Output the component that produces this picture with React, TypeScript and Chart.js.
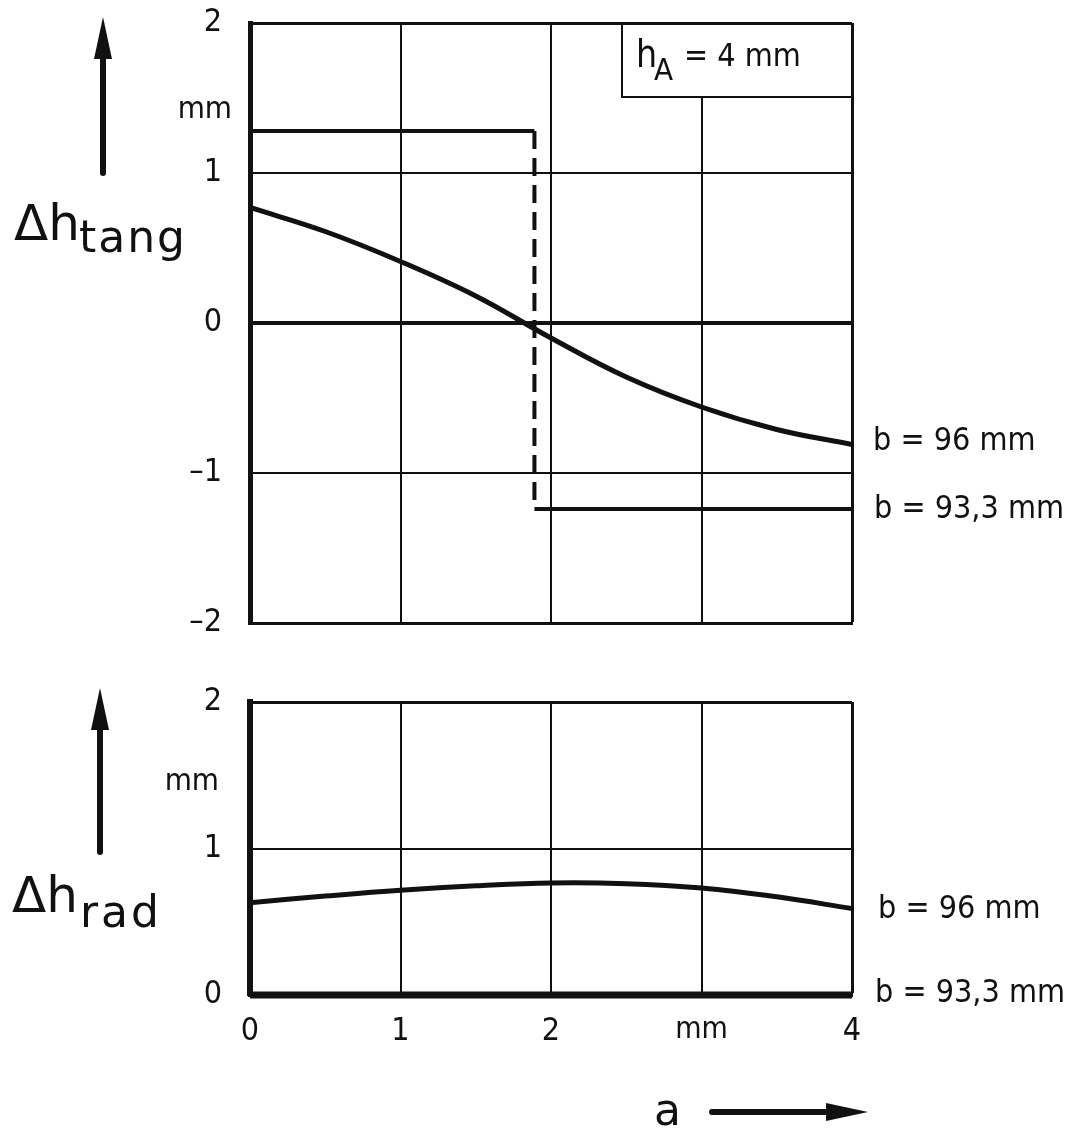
import React, { useEffect, useRef } from "react";
import { Chart, registerables } from "chart.js";
Chart.register(...registerables);

// ---- data ----
const aTang = [0, 0.5, 1, 1.5, 2, 2.5, 3, 3.5, 4];
const tang96 = [0.77, 0.61, 0.41, 0.18, -0.1, -0.36, -0.56, -0.71, -0.81];
const stepA = [0, 1.89, 1.89, 4];
const tang933 = [1.28, 1.28, -1.24, -1.24];
const aRad = [0, 0.5, 1, 1.5, 2, 2.5, 3, 3.5, 4];
const rad96 = [0.63, 0.675, 0.715, 0.745, 0.765, 0.76, 0.73, 0.67, 0.59];
const radFlatA = [0, 4];
const rad933 = [0, 0];
const xTickLabels = ["0", "1", "2", "mm", "4"];

const FONT = "'DejaVu Sans Condensed', 'DejaVu Sans', sans-serif";
const FONT_W = "'DejaVu Sans', sans-serif";
const INK = "#111";

function txt(ctx: CanvasRenderingContext2D, s: string, x: number, y: number, size: number, fam = FONT, align: CanvasTextAlign = "left", spacing = "0px") {
  ctx.save();
  ctx.font = `${size}px ${fam}`;
  (ctx as any).letterSpacing = spacing;
  ctx.textAlign = align;
  ctx.textBaseline = "alphabetic";
  ctx.fillStyle = INK;
  ctx.fillText(s, x, y);
  ctx.restore();
}

function arrowUp(ctx: CanvasRenderingContext2D, x: number, yBottom: number, yTip: number, headLen: number, half: number) {
  ctx.save();
  ctx.strokeStyle = INK;
  ctx.fillStyle = INK;
  ctx.lineWidth = 6;
  ctx.lineCap = "round";
  ctx.beginPath();
  ctx.moveTo(x, yBottom);
  ctx.lineTo(x, yTip + headLen - 2);
  ctx.stroke();
  ctx.beginPath();
  ctx.moveTo(x, yTip);
  ctx.lineTo(x - half, yTip + headLen);
  ctx.lineTo(x + half, yTip + headLen);
  ctx.closePath();
  ctx.fill();
  ctx.restore();
}

function arrowRight(ctx: CanvasRenderingContext2D, xStart: number, xTip: number, y: number, headLen: number, half: number) {
  ctx.save();
  ctx.strokeStyle = INK;
  ctx.fillStyle = INK;
  ctx.lineWidth = 6;
  ctx.lineCap = "round";
  ctx.beginPath();
  ctx.moveTo(xStart, y);
  ctx.lineTo(xTip - headLen + 2, y);
  ctx.stroke();
  ctx.beginPath();
  ctx.moveTo(xTip, y);
  ctx.lineTo(xTip - headLen, y - half);
  ctx.lineTo(xTip - headLen, y + half);
  ctx.closePath();
  ctx.fill();
  ctx.restore();
}

const topDecor = {
  id: "topDecor",
  afterDatasetsDraw(chart: any) {
    const ctx = chart.ctx as CanvasRenderingContext2D;
    const { top, right } = chart.chartArea;
    ctx.save();
    ctx.fillStyle = "#fff";
    ctx.fillRect(622, top + 2, right - 623, 95 - top);
    ctx.strokeStyle = INK;
    ctx.lineWidth = 2;
    ctx.beginPath();
    ctx.moveTo(622, top);
    ctx.lineTo(622, 97);
    ctx.lineTo(right, 97);
    ctx.stroke();
    ctx.restore();
  },
  afterDraw(chart: any) {
    const ctx = chart.ctx as CanvasRenderingContext2D;
    txt(ctx, "h", 636, 67, 37, FONT);
    txt(ctx, "A", 654, 80, 31, FONT);
    txt(ctx, "= 4 mm", 684, 66, 32, FONT);
    txt(ctx, "mm", 232, 118, 31, FONT, "right");
    arrowUp(ctx, 103, 173, 17, 42, 9);
    txt(ctx, "\u0394h", 14, 240, 50, FONT_W);
    txt(ctx, "tang", 79, 252, 44, FONT_W, "left", "2px");
    txt(ctx, "b = 96 mm", 873, 450, 32, FONT);
    txt(ctx, "b = 93,3 mm", 874, 518, 32, FONT);
  },
};

const bottomDecor = {
  id: "bottomDecor",
  afterDraw(chart: any) {
    const ctx = chart.ctx as CanvasRenderingContext2D;
    const o = 660;
    txt(ctx, "mm", 219, 790 - o, 31, FONT, "right");
    arrowUp(ctx, 100, 852 - o, 688 - o, 42, 9);
    txt(ctx, "\u0394h", 12, 912 - o, 50, FONT_W);
    txt(ctx, "rad", 80, 927 - o, 44, FONT_W, "left", "3px");
    txt(ctx, "b = 96 mm", 878, 918 - o, 32, FONT);
    txt(ctx, "b = 93,3 mm", 875, 1002 - o, 32, FONT);
    txt(ctx, "a", 654, 1125 - o, 44, FONT_W);
    arrowRight(ctx, 712, 868, 1112 - o, 42, 9);
  },
};

const noPad = (s: any) => {
  s.paddingTop = 0;
  s.paddingBottom = 0;
};

export default function App() {
  const topRef = useRef<HTMLCanvasElement>(null);
  const botRef = useRef<HTMLCanvasElement>(null);

  useEffect(() => {
    const gridW = (ctx: any, edge: number[], thick: number[]) => {
      const v = ctx.tick ? ctx.tick.value : null;
      if (thick.includes(v)) return 4;
      if (edge.includes(v)) return 3;
      return 2;
    };

    // step line b = 93,3 mm: solid horizontal parts, dashed jump
    const stepSolid = [
      { x: stepA[0], y: tang933[0] },
      { x: stepA[1], y: tang933[1] },
      { x: stepA[1], y: null },
      { x: stepA[2], y: tang933[2] },
      { x: stepA[3], y: tang933[3] },
    ];
    const stepJump = [
      { x: stepA[1], y: tang933[1] },
      { x: stepA[2], y: tang933[2] },
    ];

    const top = new Chart(topRef.current as HTMLCanvasElement, {
      type: "line",
      data: {
        datasets: [
          {
            label: "b = 96 mm",
            data: aTang.map((x, i) => ({ x, y: tang96[i] })),
            borderColor: INK,
            borderWidth: 5,
            pointRadius: 0,
            tension: 0.4,
            fill: false,
          },
          {
            label: "b = 93,3 mm",
            data: stepSolid,
            borderColor: INK,
            borderWidth: 4,
            pointRadius: 0,
            tension: 0,
            spanGaps: false,
            fill: false,
          },
          {
            label: "b = 93,3 mm (jump)",
            data: stepJump,
            borderColor: INK,
            borderWidth: 4,
            borderDash: [18, 9],
            pointRadius: 0,
            tension: 0,
            fill: false,
          },
        ],
      },
      options: {
        animation: false,
        responsive: false,
        maintainAspectRatio: false,
        layout: { padding: { left: 0, right: 218, top: 23, bottom: 0 } },
        plugins: { legend: { display: false }, tooltip: { enabled: false } },
        scales: {
          x: {
            type: "linear",
            min: 0,
            max: 4,
            ticks: { display: false, stepSize: 1 },
            grid: { color: INK, drawTicks: false, lineWidth: (c: any) => gridW(c, [4], []) },
            border: { color: INK, width: 3 },
            afterFit: (s: any) => { s.height = 37; s.paddingLeft = 0; s.paddingRight = 0; },
          },
          y: {
            type: "linear",
            min: -2,
            max: 2,
            ticks: {
              stepSize: 1,
              padding: 28,
              color: INK,
              font: { family: FONT, size: 32 },
              callback: (v: any) => (v < 0 ? "\u2013" + Math.abs(v) : String(v)),
            },
            grid: { color: INK, drawTicks: false, lineWidth: (c: any) => gridW(c, [2, -2], [0]) },
            border: { color: INK, width: 5 },
            afterFit: (s: any) => { s.width = 250; noPad(s); },
          },
        },
      },
      plugins: [topDecor],
    } as any);

    const bot = new Chart(botRef.current as HTMLCanvasElement, {
      type: "line",
      data: {
        datasets: [
          {
            label: "b = 96 mm",
            data: aRad.map((x, i) => ({ x, y: rad96[i] })),
            borderColor: INK,
            borderWidth: 5,
            pointRadius: 0,
            tension: 0.4,
            fill: false,
          },
          {
            label: "b = 93,3 mm",
            data: radFlatA.map((x, i) => ({ x, y: rad933[i] })),
            borderColor: INK,
            borderWidth: 7,
            pointRadius: 0,
            fill: false,
            clip: 8,
          },
        ],
      },
      options: {
        animation: false,
        responsive: false,
        maintainAspectRatio: false,
        layout: { padding: { left: 0, right: 218, top: 42, bottom: 0 } },
        plugins: { legend: { display: false }, tooltip: { enabled: false } },
        scales: {
          x: {
            type: "linear",
            min: 0,
            max: 4,
            ticks: {
              stepSize: 1,
              padding: 17,
              color: INK,
              font: (c: any) => ({ family: FONT, size: c.tick && c.tick.value === 3 ? 30 : 32 }),
              callback: (v: any) => xTickLabels[Math.round(v)] ?? String(v),
            },
            grid: { color: INK, drawTicks: false, lineWidth: (c: any) => gridW(c, [4], []) },
            border: { color: INK, width: 4 },
            afterFit: (s: any) => { s.height = 136; s.paddingLeft = 0; s.paddingRight = 0; },
          },
          y: {
            type: "linear",
            min: 0,
            max: 2,
            ticks: {
              stepSize: 1,
              padding: 28,
              color: INK,
              font: { family: FONT, size: 32 },
            },
            grid: { color: INK, drawTicks: false, lineWidth: (c: any) => gridW(c, [2], []) },
            border: { color: INK, width: 6 },
            afterFit: (s: any) => { s.width = 250; noPad(s); },
          },
        },
      },
      plugins: [bottomDecor],
    } as any);

    return () => {
      top.destroy();
      bot.destroy();
    };
  }, []);

  return (
    <div style={{ position: "absolute", left: 0, top: 0, width: 1070, height: 1131, background: "#fff", overflow: "hidden" }}>
      <canvas ref={topRef} width={1070} height={660} style={{ position: "absolute", left: 0, top: 0, display: "block" }} />
      <canvas ref={botRef} width={1070} height={471} style={{ position: "absolute", left: 0, top: 660, display: "block" }} />
    </div>
  );
}
